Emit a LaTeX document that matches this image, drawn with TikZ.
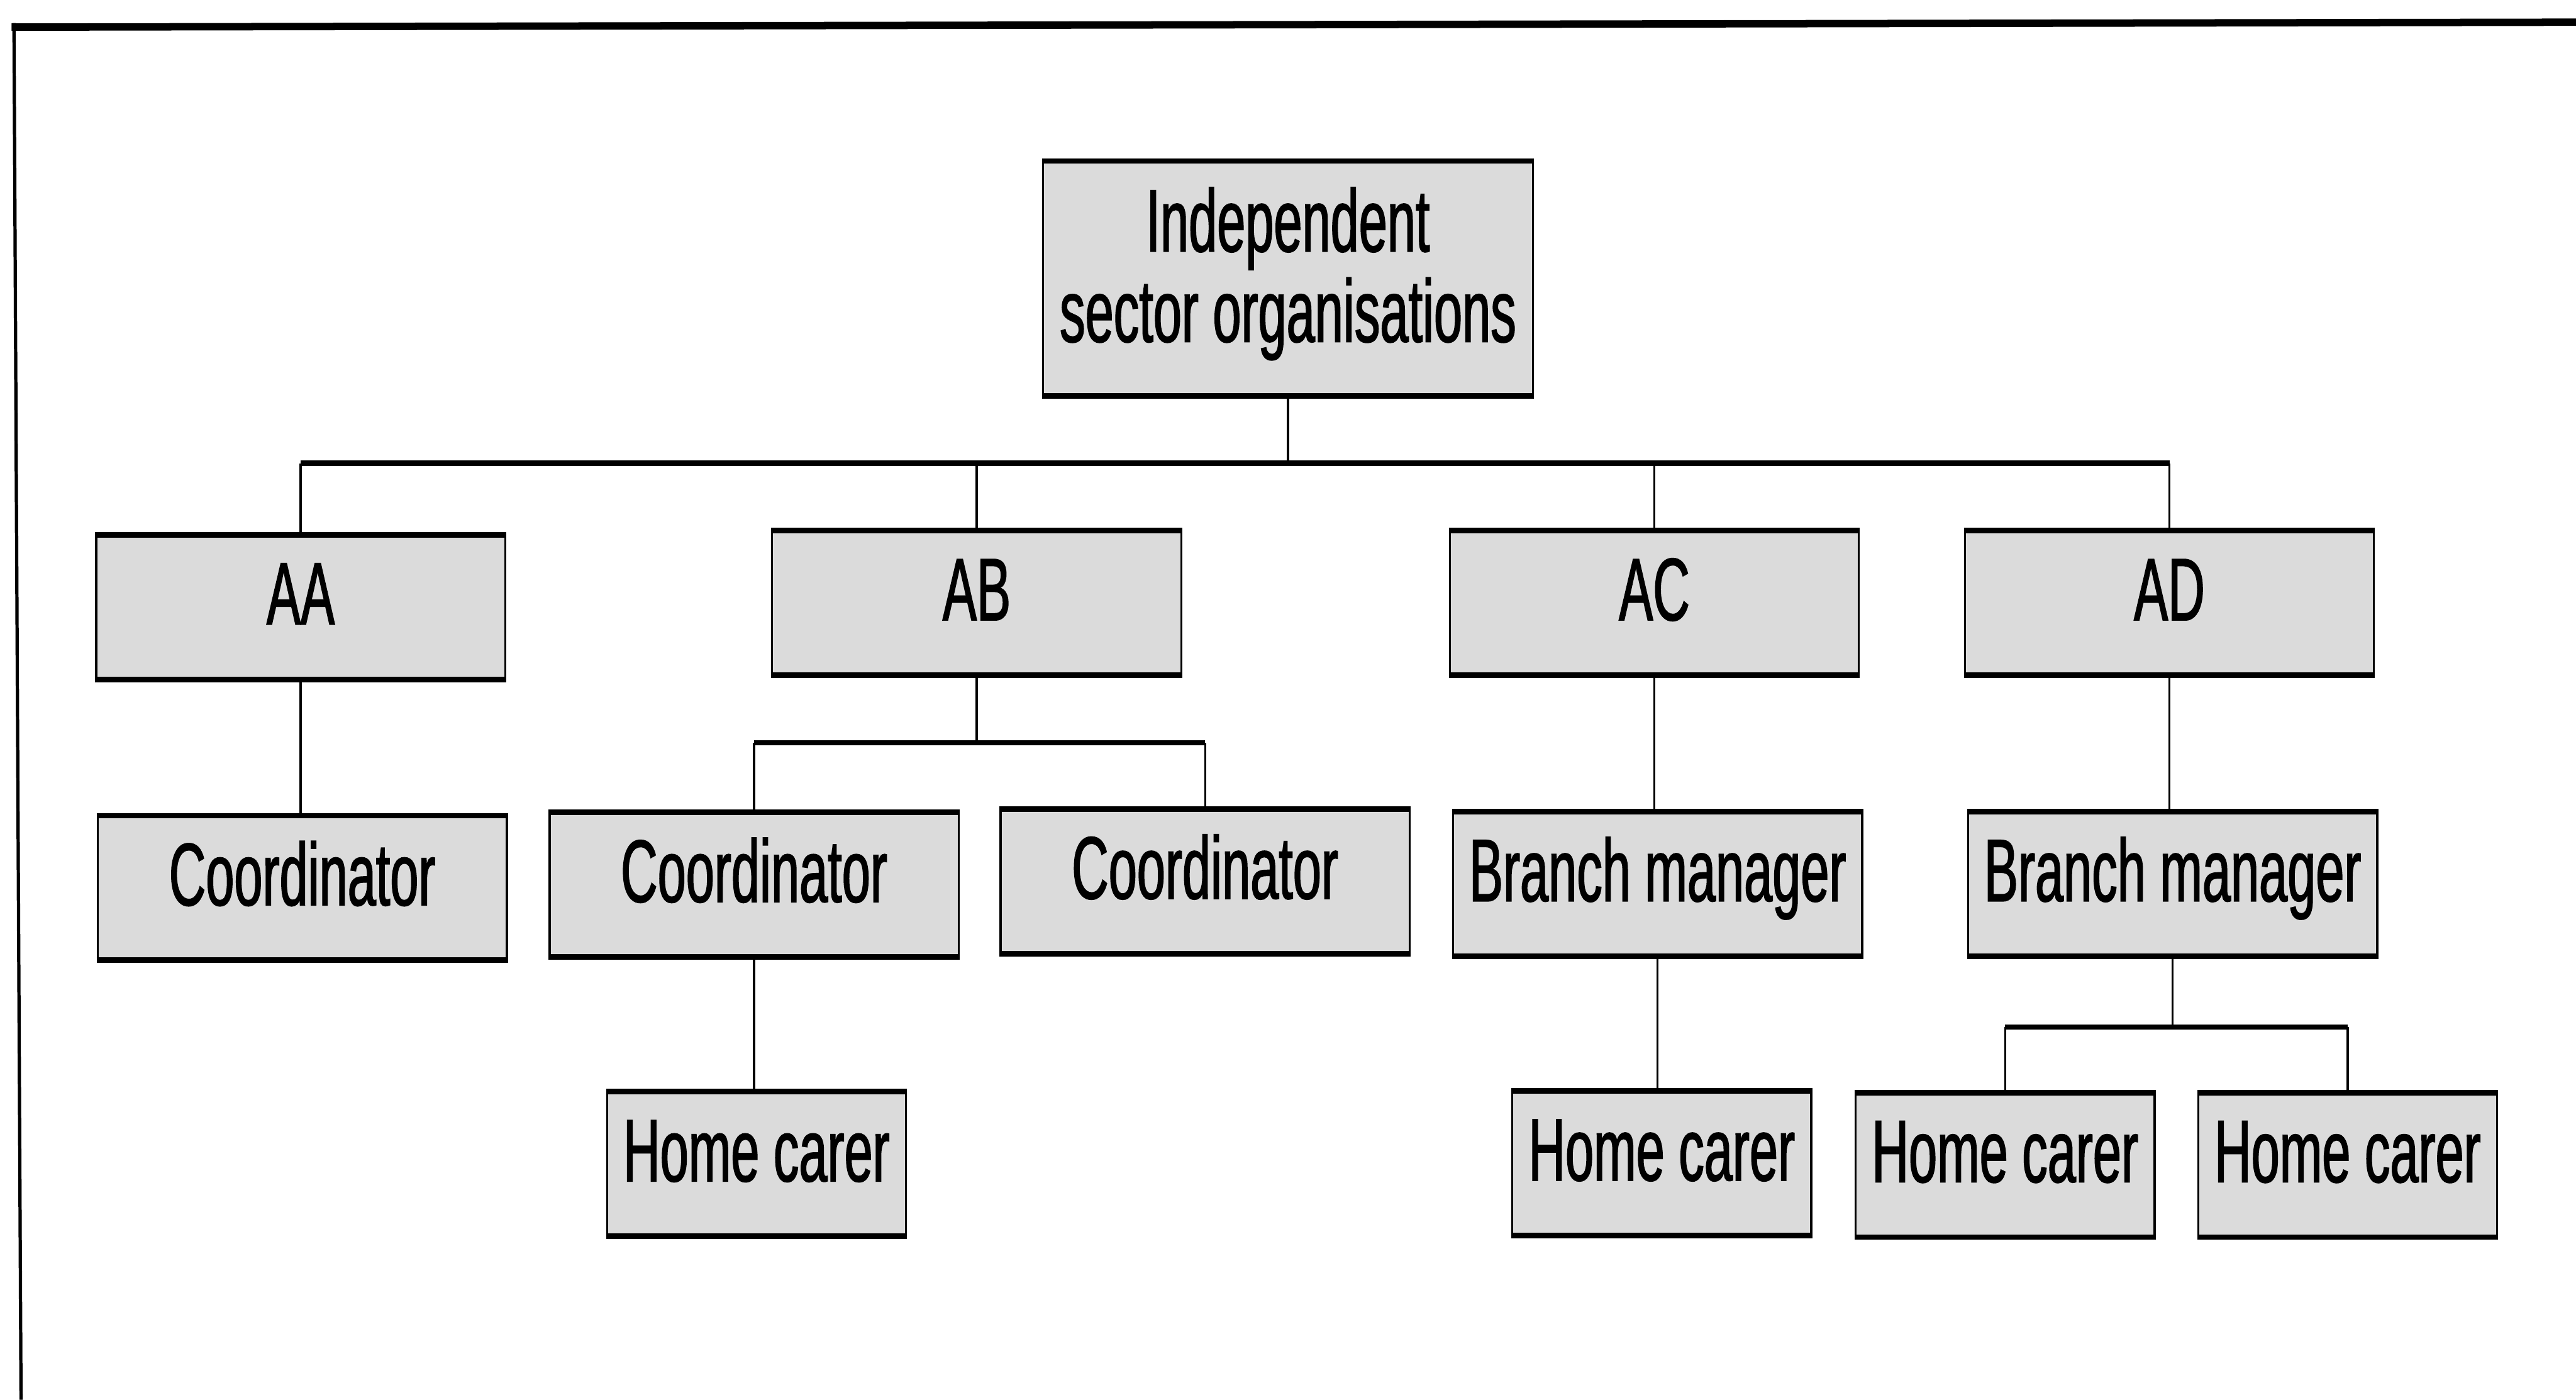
\documentclass[tikz,border=0pt]{standalone}
\usepackage{fontspec}
\setmainfont[FakeStretch=0.575,FakeBold=1.2]{Liberation Sans}
\definecolor{boxfill}{RGB}{219,219,219}
\begin{document}
\begin{tikzpicture}[x=1pt,y=-1pt,
  every node/.style={inner sep=0pt, outer sep=0pt},
  boxbase/.style={fill=boxfill, draw=black, line width=1.3pt,
    font=\fontsize{54pt}{55pt}\selectfont},
  unit/.style={boxbase, minimum height=88pt, text height=39pt, text depth=18pt},
  widebox/.style={unit, minimum width=249pt},
  carerbox/.style={unit, minimum width=182pt},
  hedge/.style={line width=3.4pt},
  vlink/.style={line width=1.2pt},
  hlink/.style={line width=3.2pt}]

\useasboundingbox (0,0) rectangle (1568,852);

% page frame (top and left rules)
\draw[line width=4.5pt] (7,16.5) -- (1568,13.5);
\draw[line width=2pt] (8.5,14) -- (12.8,852);

% nodes
\node[boxbase, minimum width=298pt, minimum height=143pt, align=center,
      text depth=17pt]
  (top) at (784,169.5) {Independent\\sector organisations};

\node[widebox] (aa) at (183,369.5) {AA};
\node[widebox] (ab) at (594.5,367) {AB};
\node[widebox] (ac) at (1007,367) {AC};
\node[widebox] (ad) at (1320.5,367) {AD};

\node[widebox] (ca) at (184,540.5) {Coordinator};
\node[widebox] (cb) at (459,538.5) {Coordinator};
\node[widebox] (cc) at (733.5,536.5) {Coordinator};
\node[widebox] (bma) at (1009,538) {Branch manager};
\node[widebox] (bmb) at (1322.5,538) {Branch manager};

\node[carerbox] (ha) at (460.5,708.5) {Home carer};
\node[carerbox] (hb) at (1011.5,708) {Home carer};
\node[carerbox] (hc) at (1220.5,709) {Home carer};
\node[carerbox] (hd) at (1429,709) {Home carer};

% heavier top and bottom edges of every box
\foreach \n in {top,aa,ab,ac,ad,ca,cb,cc,bma,bmb,ha,hb,hc,hd}
  \draw[hedge] ([xshift=-0.65pt]\n.north west) -- ([xshift=0.65pt]\n.north east)
               ([xshift=-0.65pt]\n.south west) -- ([xshift=0.65pt]\n.south east);

% bus levels
\coordinate (busy) at (0,282);
\coordinate (abbus) at (0,452);
\coordinate (adbus) at (0,625);

% top level
\draw[vlink] (top.south) -- (top.south |- busy);
\draw[hlink] (aa.north |- busy) -- (ad.north |- busy);
\foreach \n in {aa,ab,ac,ad}
  \draw[vlink] (\n.north |- busy) -- (\n.north);

% AA branch
\draw[vlink] (aa.south) -- (aa.south |- ca.north);

% AB branch
\draw[vlink] (ab.south) -- (ab.south |- abbus);
\draw[hlink] (cb.north |- abbus) -- (cc.north |- abbus);
\draw[vlink] (cb.north |- abbus) -- (cb.north);
\draw[vlink] (cc.north |- abbus) -- (cc.north);
\draw[vlink] (cb.south) -- (cb.south |- ha.north);

% AC branch
\draw[vlink] (ac.south) -- (ac.south |- bma.north);
\draw[vlink] (bma.south) -- (bma.south |- hb.north);

% AD branch
\draw[vlink] (ad.south) -- (ad.south |- bmb.north);
\draw[vlink] (bmb.south) -- (bmb.south |- adbus);
\draw[hlink] (hc.north |- adbus) -- (hd.north |- adbus);
\draw[vlink] (hc.north |- adbus) -- (hc.north);
\draw[vlink] (hd.north |- adbus) -- (hd.north);

\end{tikzpicture}
\end{document}
